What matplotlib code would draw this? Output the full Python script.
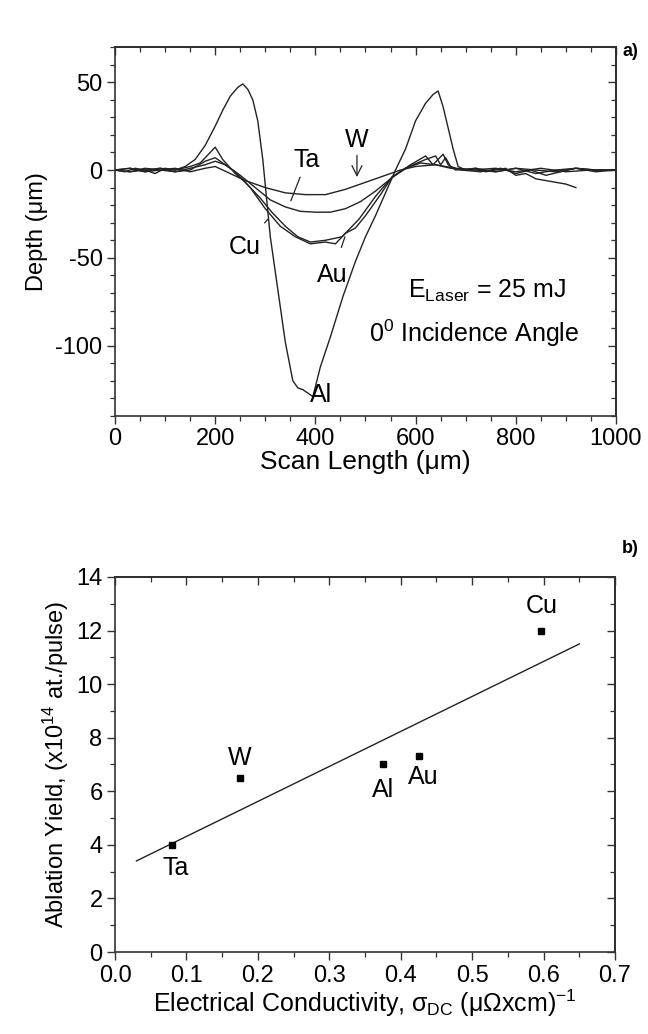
import matplotlib
matplotlib.use("Agg")
from matplotlib import pyplot as plt
from matplotlib.ticker import MultipleLocator

plt.rcParams['font.family'] = ['Liberation Sans', 'DejaVu Sans']
plt.rcParams['mathtext.fontset'] = 'custom'
plt.rcParams['mathtext.rm'] = 'Liberation Sans'
plt.rcParams['mathtext.it'] = 'Liberation Sans'
plt.rcParams['axes.unicode_minus'] = False

# ---- panel a) depth profiles (scan length in um, depth in um) ----
al_x = [0, 20, 40, 60, 80, 100, 120, 140, 160, 180, 200, 215, 230, 245, 255,
        265, 275, 285, 295, 310, 325, 340, 355, 365, 375, 385, 395, 410, 430,
        455, 480, 500, 520, 540, 560, 580, 600, 620, 635, 645, 655, 665, 675,
        685, 700, 720, 740, 760, 780, 800, 820, 840, 860, 880, 900, 920]
al_y = [0, -1, 1, 0, -2, 1, 0, 2, 6, 14, 25, 34, 42, 47, 49,
        46, 40, 28, 6, -38, -68, -98, -120, -124, -125, -127, -129, -112, -95,
        -72, -52, -38, -26, -13, 0, 12, 28, 38, 43, 45, 36, 24, 12,
        2, 0, 1, -1, 0, 1, -3, -2, -5, -6, -7, -8, -10]

w_x = [0, 30, 60, 90, 120, 150, 180, 200, 230, 260, 300, 340, 380, 420, 460,
       500, 540, 570, 600, 640, 680, 720, 760, 800, 840, 880, 920, 960, 1000]
w_y = [0, -1, 1, 0, 1, -1, 1, 2, -2, -6, -10, -13, -14, -14, -11,
       -7, -3, 0, 2, 3, 1, 0, -1, 1, 0, -1, 1, 0, 0]

ta_x = [0, 30, 60, 90, 120, 150, 180, 200, 220, 250, 280, 310, 340, 370, 400,
        430, 460, 490, 520, 550, 580, 610, 640, 670, 710, 760, 800, 850, 900,
        950, 1000]
ta_y = [0, 1, -1, 0, -1, 1, 3, 5, 3, -3, -10, -17, -21, -23.5, -24,
        -24, -22, -18, -12, -5, 1, 4, 3, 1, 0, 1, -1, 1, -1, 0, 0]

cu_x = [0, 30, 60, 90, 120, 150, 170, 190, 200, 215, 240, 260, 290, 313, 340,
        365, 390, 420, 453, 487, 520, 553, 587, 620, 640, 650, 660, 670, 690,
        730, 770, 800, 830, 860, 890, 920, 960, 1000]
cu_y = [0, 1, -1, 1, 0, 2, 4, 10, 13, 6, -2, -7, -16, -24, -32,
        -38, -41, -40, -38, -28, -15, -4, 2, 6, 8, 3, 7, 2, 0,
        -1, 1, -2, 0, -3, -1, 1, 0, 0]

au_x = [0, 30, 60, 90, 120, 150, 180, 200, 220, 240, 270, 300, 330, 360, 390,
        420, 440, 460, 480, 500, 530, 553, 590, 620, 635, 645, 655, 665, 680,
        720, 760, 800, 840, 880, 920, 960, 1000]
au_y = [0, -1, 0, 1, -1, 0, 5, 7, 3, -1, -10, -22, -32, -38, -42,
        -41, -42, -36, -33, -26, -14, -4, 3, 8, 3, 6, 9, 3, 0,
        1, -1, 1, -2, 0, 1, -1, 0]

# ---- panel b) ablation yield vs conductivity ----
metals = ['Ta', 'W', 'Al', 'Au', 'Cu']
sigma_dc = [0.08, 0.175, 0.375, 0.425, 0.597]
ablation_yield = [4.0, 6.5, 7.0, 7.3, 12.0]
fit_x = [0.03, 0.65]
fit_y = [3.4, 11.5]

fig = plt.figure(figsize=(6.48, 10.34), dpi=100)
ax1 = fig.add_axes([0.1775, 0.5977, 0.773, 0.3568])
ax2 = fig.add_axes([0.1775, 0.0793, 0.7716, 0.3627])

lw = 1.0
for xs, ys in [(al_x, al_y), (w_x, w_y), (ta_x, ta_y), (cu_x, cu_y), (au_x, au_y)]:
    ax1.plot(xs, ys, color='#222222', lw=lw)

ax1.set_xlim(0, 1000)
ax1.set_ylim(-140, 70)
ax1.xaxis.set_major_locator(MultipleLocator(200))
ax1.xaxis.set_minor_locator(MultipleLocator(50))
ax1.yaxis.set_major_locator(MultipleLocator(50))
ax1.yaxis.set_minor_locator(MultipleLocator(10))
ax1.set_xlabel('Scan Length (\u03bcm)', fontsize=19, labelpad=0)
ax1.set_ylabel('Depth (\u03bcm)', fontsize=17, labelpad=5)

arrow = dict(arrowstyle='->', color='#222222', lw=0.9, shrinkA=0, shrinkB=0)
fs = 17
ax1.annotate('W', xy=(483, -4), xytext=(483, 10), ha='center', va='bottom',
             fontsize=fs + 1, arrowprops=arrow)
ax1.annotate('Ta', xy=(349, -19), xytext=(383, -1), ha='center', va='bottom',
             fontsize=fs + 1, arrowprops=dict(arrowstyle='-', color='#222222', lw=0.9))
ax1.annotate('Cu', xy=(305, -28), xytext=(258, -44), ha='center', va='center',
             fontsize=fs + 1, arrowprops=dict(arrowstyle='-', color='#222222', lw=0.9,
                                              shrinkA=9, shrinkB=0))
ax1.annotate('Au', xy=(459, -38), xytext=(433, -60), ha='center', va='center',
             fontsize=fs + 1, arrowprops=dict(arrowstyle='-', color='#222222', lw=0.9,
                                              shrinkA=10, shrinkB=0))
ax1.text(390, -128, 'Al', ha='left', va='center', fontsize=fs + 1)
ax1.text(585, -69, r'E$_{\mathregular{Laser}}$ = 25 mJ', ha='left', va='center',
         fontsize=fs + 1)
ax1.text(508, -93, r'0$^{\mathregular{0}}$ Incidence Angle', ha='left', va='center',
         fontsize=fs + 1)

ax2.plot(fit_x, fit_y, color='#222222', lw=lw)
ax2.plot(sigma_dc, ablation_yield, 's', color='black', ms=5)
label_pos = {'Ta': (0.085, 3.13), 'W': (0.175, 7.25), 'Al': (0.375, 6.05),
             'Au': (0.432, 6.55), 'Cu': (0.598, 12.9)}
for m in metals:
    lx, ly = label_pos[m]
    ax2.text(lx, ly, m, ha='center', va='center', fontsize=fs + 1)

ax2.set_xlim(0, 0.7)
ax2.set_ylim(0, 14)
ax2.xaxis.set_major_locator(MultipleLocator(0.1))
ax2.xaxis.set_minor_locator(MultipleLocator(0.05))
ax2.yaxis.set_major_locator(MultipleLocator(2))
ax2.yaxis.set_minor_locator(MultipleLocator(1))
ax2.xaxis.set_major_formatter(plt.FormatStrFormatter('%.1f'))
ax2.set_xlabel('Electrical Conductivity, $\\sigma_{\\mathregular{DC}}$ (\u03bc\u03a9xcm)$^{\\mathregular{-1}}$',
               fontsize=18, labelpad=1)
ax2.set_ylabel('Ablation Yield, (x10$^{\\mathregular{14}}$ at./pulse)', fontsize=17,
               labelpad=4)

for ax in (ax1, ax2):
    for sp in ax.spines.values():
        sp.set_linewidth(1.2)
        sp.set_color('#333333')
    ax.tick_params(which='both', direction='out', labelsize=17, color='#333333',
                   top=False, right=False, pad=3)
    ax.tick_params(which='major', length=6, width=1.0)
    ax.tick_params(which='minor', length=3.5, width=0.9)

    # inward ticks on the top/right edges
    sx = ax.secondary_xaxis('top')
    sy = ax.secondary_yaxis('right')
    for sec in (sx, sy):
        sec.tick_params(which='both', direction='in', color='#333333')
        sec.tick_params(which='major', length=6, width=1.0)
        sec.tick_params(which='minor', length=3.5, width=0.9)
    sx.xaxis.set_major_locator(ax.xaxis.get_major_locator())
    sx.xaxis.set_minor_locator(ax.xaxis.get_minor_locator())
    sy.yaxis.set_major_locator(ax.yaxis.get_major_locator())
    sy.yaxis.set_minor_locator(ax.yaxis.get_minor_locator())
    sx.set_xticklabels([])
    sy.set_yticklabels([])
    sx.spines['top'].set_linewidth(1.2)
    sy.spines['right'].set_linewidth(1.2)

fig.text(0.985, 0.950, 'a)', ha='right', va='center', fontsize=13, fontweight='bold')
fig.text(0.985, 0.470, 'b)', ha='right', va='center', fontsize=13, fontweight='bold')

fig.savefig('out.png', dpi=100)
